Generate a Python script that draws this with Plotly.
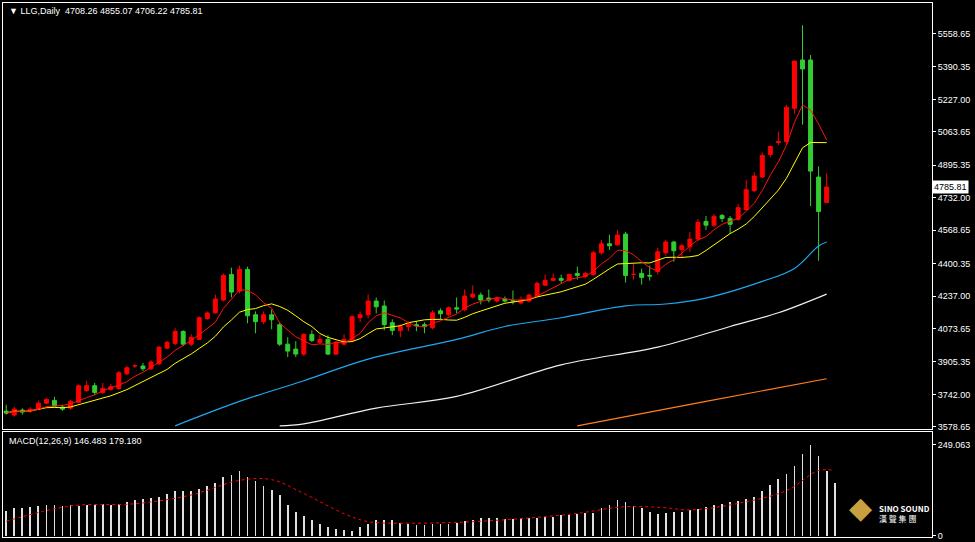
import pandas as pd
import plotly.graph_objects as go

# daily candles
opens = [3658, 3638, 3663, 3658, 3668, 3698, 3712, 3678, 3673, 3702, 3762, 3786, 3752, 3767, 3772, 3846,
         3885, 3885, 3871, 3896, 3975, 3999, 4059, 3995, 4019, 4123, 4153, 4217, 4346, 4262, 4371, 4143,
         4108, 4143, 4093, 3995, 3970, 3945, 4044, 4004, 4019, 3945, 3995, 4014, 4128, 4143, 4212, 4187,
         4103, 4064, 4083, 4093, 4093, 4078, 4163, 4143, 4178, 4168, 4232, 4242, 4227, 4212, 4222, 4215,
         4202, 4212, 4237, 4292, 4316, 4326, 4316, 4351, 4336, 4346, 4455, 4500, 4495, 4549, 4346, 4351,
         4341, 4361, 4455, 4509, 4470, 4485, 4524, 4613, 4594, 4643, 4628, 4623, 4672, 4767, 4836, 4950,
         5010, 5014, 5182, 5425, 5425, 4836, 4708.26]
closes = [3648, 3668, 3653, 3668, 3698, 3717, 3683, 3668, 3707, 3786, 3786, 3752, 3772, 3781, 3851, 3876,
          3887, 3871, 3905, 3980, 4004, 4059, 3995, 4029, 4128, 4152, 4222, 4341, 4257, 4371, 4138, 4108,
          4143, 4118, 3995, 3960, 3945, 4044, 4014, 4019, 3945, 4004, 4019, 4133, 4143, 4212, 4183, 4093,
          4064, 4083, 4093, 4088, 4083, 4153, 4148, 4178, 4172, 4237, 4247, 4217, 4217, 4227, 4212, 4212,
          4217, 4242, 4301, 4316, 4326, 4316, 4346, 4341, 4351, 4455, 4500, 4490, 4544, 4341, 4346, 4331,
          4338, 4460, 4509, 4465, 4490, 4524, 4608, 4594, 4638, 4628, 4598, 4682, 4772, 4841, 4945, 4990,
          5015, 5187, 5420, 5380, 4866, 4663, 4785.81]
highs = [3690, 3680, 3672, 3678, 3710, 3725, 3730, 3690, 3715, 3792, 3810, 3800, 3800, 3795, 3860, 3885,
         3895, 3900, 3915, 3985, 4012, 4075, 4065, 4045, 4135, 4160, 4245, 4350, 4380, 4390, 4385, 4160,
         4160, 4170, 4105, 4030, 4010, 4050, 4065, 4040, 4040, 4010, 4045, 4140, 4160, 4245, 4230, 4215,
         4120, 4095, 4110, 4110, 4105, 4165, 4175, 4185, 4230, 4270, 4290, 4255, 4270, 4235, 4235, 4265,
         4235, 4250, 4310, 4345, 4350, 4345, 4350, 4385, 4360, 4465, 4520, 4545, 4570, 4560, 4400, 4375,
         4390, 4480, 4520, 4515, 4500, 4560, 4625, 4640, 4650, 4650, 4640, 4700, 4820, 4860, 4960, 4995,
         5065, 5200, 5420, 5600, 5450, 4890, 4855.07]
lows = [3640, 3630, 3640, 3650, 3662, 3692, 3678, 3660, 3665, 3698, 3755, 3740, 3745, 3760, 3765, 3840,
        3875, 3860, 3865, 3890, 3970, 3990, 3985, 3985, 4015, 4118, 4148, 4210, 4230, 4250, 4100, 4050,
        4095, 4070, 3985, 3930, 3930, 3935, 4005, 3995, 3940, 3940, 3990, 4005, 4105, 4125, 4150, 4065,
        4040, 4030, 4060, 4060, 4050, 4070, 4120, 4135, 4150, 4160, 4225, 4195, 4205, 4205, 4205, 4195,
        4195, 4205, 4232, 4287, 4310, 4300, 4310, 4320, 4325, 4340, 4445, 4470, 4490, 4305, 4320, 4295,
        4315, 4345, 4440, 4410, 4430, 4460, 4515, 4570, 4585, 4610, 4550, 4615, 4665, 4760, 4830, 4935,
        4998, 5000, 5155, 5100, 4690, 4415, 4706.22]

# slow moving averages, sampled (candle index, price)
ma_blue_idx = [21, 29, 37, 45, 56, 62, 69, 77, 82, 87, 94, 98, 101, 102]
ma_blue = [3584, 3707, 3811, 3920, 4019, 4084, 4128, 4188, 4197, 4227, 4311, 4376, 4489, 4509]
ma_white_idx = [34, 37, 46, 56, 69, 81, 90, 96, 102]
ma_white = [3584, 3594, 3673, 3732, 3891, 3980, 4084, 4153, 4247]
ma_orange_idx = [71, 87, 102]
ma_orange = [3584, 3707, 3821]

# MACD histogram and signal line
macd_hist = [70, 77, 77, 80, 82, 84, 84, 82, 84, 82, 86, 86, 87, 86, 88, 94, 98, 101, 104, 108, 114, 123,
             123, 123, 130, 137, 146, 163, 167, 177, 163, 150, 137, 126, 112, 84, 66, 56, 45, 34, 25, 19,
             17, 15, 24, 32, 44, 45, 44, 35, 34, 30, 30, 32, 34, 34, 35, 40, 45, 49, 50, 50, 47, 47, 49,
             49, 49, 52, 53, 57, 59, 61, 64, 64, 77, 84, 98, 93, 82, 76, 67, 61, 64, 66, 67, 71, 74, 80,
             86, 89, 93, 95, 101, 108, 124, 140, 156, 171, 192, 225, 249, 219, 177, 146.483]
signal_idx = [0, 8, 16, 23, 29, 33, 37, 42, 45, 50, 58, 70, 77, 82, 85, 91, 97, 101, 103]
signal = [40, 82, 88, 112, 152, 154, 116, 61, 39, 35, 39, 59, 80, 77, 71, 89, 124, 179, 179.18]

price_ticks = [5558.65, 5390.35, 5227.00, 5063.65, 4895.35, 4732.00, 4568.65, 4400.35, 4237.00,
               4073.65, 3905.35, 3742.00, 3578.65]

idx = list(range(len(closes)))
close_s = pd.Series(closes)
ma_red = close_s.rolling(5, min_periods=1).mean()
ma_yellow = close_s.rolling(10, min_periods=1).mean()

fig = go.Figure()
fig.add_trace(go.Scatter(x=ma_orange_idx, y=ma_orange, mode="lines", line=dict(color="#ff7f1e", width=1.2, shape="spline")))
fig.add_trace(go.Scatter(x=ma_white_idx, y=ma_white, mode="lines", line=dict(color="#f0f0f0", width=1.2, shape="spline")))
fig.add_trace(go.Scatter(x=ma_blue_idx, y=ma_blue, mode="lines", line=dict(color="#1ea8f0", width=1.2, shape="spline")))
fig.add_trace(go.Scatter(x=idx, y=ma_yellow, mode="lines", line=dict(color="#ffff00", width=1)))
fig.add_trace(go.Scatter(x=idx, y=ma_red, mode="lines", line=dict(color="#ff1010", width=1)))
fig.add_trace(go.Candlestick(
    x=idx, open=opens, high=highs, low=lows, close=closes,
    increasing=dict(line=dict(color="#ff0000", width=1), fillcolor="#ff0000"),
    decreasing=dict(line=dict(color="#32cd32", width=1), fillcolor="#32cd32"),
    whiskerwidth=0,
))
fig.add_trace(go.Bar(x=list(range(len(macd_hist))), y=macd_hist, width=0.1,
                     marker=dict(color="#e0e0e0", line=dict(width=0)), xaxis="x2", yaxis="y2"))
fig.add_trace(go.Scatter(x=signal_idx, y=signal, mode="lines", xaxis="x2", yaxis="y2",
                         line=dict(color="#ff0000", width=1, dash="dot", shape="spline")))

axis_common = dict(showgrid=False, zeroline=False, showline=True, mirror=True, linecolor="#ffffff", linewidth=1)
fig.update_layout(
    width=975, height=542,
    paper_bgcolor="#000000", plot_bgcolor="#000000",
    margin=dict(l=2, r=43, t=2, b=2),
    showlegend=False,
    font=dict(family="Liberation Sans", size=9, color="#ffffff"),
    xaxis=dict(axis_common, domain=[0, 1], range=[-0.4, 115.1], showticklabels=False, anchor="y",
               rangeslider=dict(visible=False)),
    yaxis=dict(axis_common, domain=[0.203, 1], range=[3570, 5712], side="right",
               tickvals=price_ticks, ticktext=[f"{v:.2f}" for v in price_ticks],
               ticks="outside", ticklen=3, tickcolor="#ffffff"),
    xaxis2=dict(axis_common, domain=[0, 1], range=[-0.4, 115.1], showticklabels=False, anchor="y2"),
    yaxis2=dict(axis_common, domain=[0, 0.197], range=[-3, 285], side="right",
                tickvals=[0, 249.063], ticktext=["0", "249.063"], ticks="outside", ticklen=3, tickcolor="#ffffff"),
    bargap=0,
)
fig.add_annotation(xref="paper", yref="paper", x=0.004, y=0.998, xanchor="left", yanchor="top", showarrow=False,
                   text="\u25bc LLG,Daily  4708.26 4855.07 4706.22 4785.81", font=dict(size=9, color="#ffffff"))
fig.add_annotation(xref="paper", yref="paper", x=0.004, y=0.193, xanchor="left", yanchor="top", showarrow=False,
                   text="MACD(12,26,9) 146.483 179.180", font=dict(size=9, color="#ffffff"))
fig.add_annotation(xref="paper", y=4785.81, yref="y", x=1.0, xanchor="left", showarrow=False,
                   text="4785.81", bgcolor="#ffffff", font=dict(size=9, color="#000000"), borderpad=1)
fig.add_annotation(xref="paper", yref="paper", x=1.0, y=0.02, xanchor="right", yanchor="bottom", showarrow=False,
                   text="<b>SINO SOUND</b><br>漢 聲 集 團", align="left",
                   font=dict(size=8, color="#ffffff", family="Noto Sans CJK TC"))
fig.add_annotation(xref="paper", yref="paper", x=0.938, y=0.02, xanchor="right", yanchor="bottom", showarrow=False,
                   text="\u25c6", font=dict(size=30, color="#c8a040"))

fig.write_html("out.html", config={"displayModeBar": False},
               post_script="document.body.style.margin='0';")
